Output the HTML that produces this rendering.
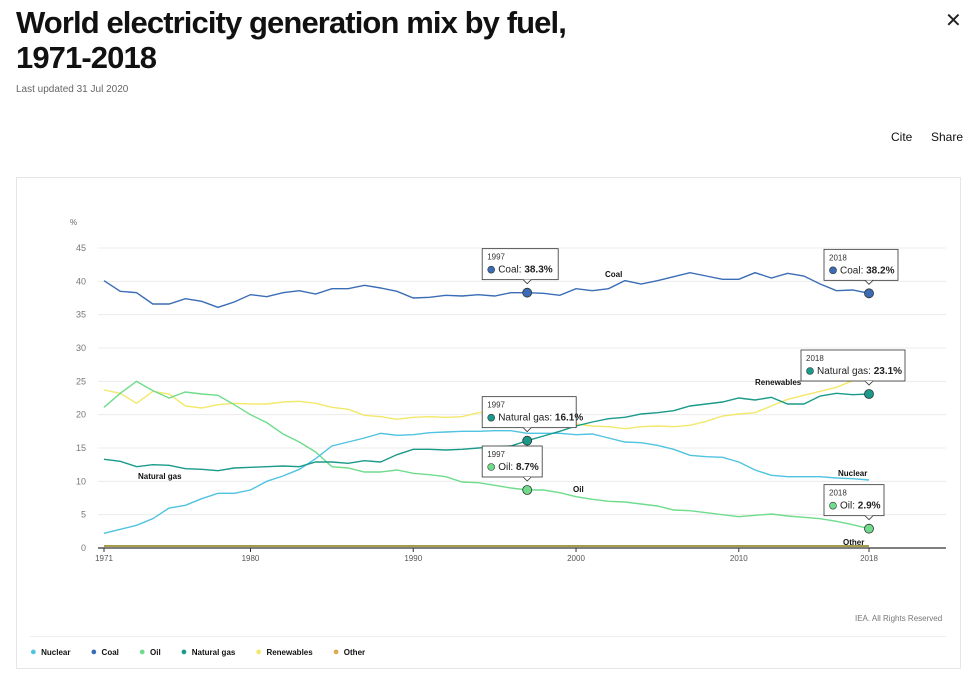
<!DOCTYPE html>
<html><head><meta charset="utf-8">
<style>
body{margin:0;width:980px;height:675px;background:#fff;font-family:"Liberation Sans",sans-serif;position:relative;overflow:hidden;color:#111}
.abs{position:absolute}
.dot{font-size:11px}
</style></head><body>
<div class="abs" style="left:16px;top:5px;font-size:31px;font-weight:bold;line-height:35px;letter-spacing:-0.9px">World electricity generation mix by fuel,<br>1971-2018</div>
<div class="abs" style="left:16px;top:84px;font-size:10px;color:#666">Last updated 31 Jul 2020</div>
<div class="abs" style="left:945px;top:8px;font-size:20px;color:#222">✕</div>
<div class="abs" style="left:891px;top:130px;font-size:12px">Cite</div>
<div class="abs" style="left:931px;top:130px;font-size:12px">Share</div>
<div class="abs" style="left:16px;top:177px;width:943px;height:490px;border:1px solid #e6e6e6"></div>
<svg class="abs" style="left:0;top:0" width="980" height="675" id="chart"></svg>
<script>
const years=[];for(let y=1971;y<=2018;y++)years.push(y);
const coal=[40.1,38.5,38.3,36.6,36.6,37.4,37,36.1,36.9,38,37.7,38.3,38.6,38.1,38.9,38.9,39.4,39,38.5,37.5,37.6,37.9,37.8,38,37.8,38.3,38.3,38.2,37.9,38.9,38.6,38.9,40.1,39.6,40.1,40.7,41.3,40.8,40.3,40.3,41.3,40.5,41.2,40.8,39.6,38.6,38.7,38.2];
const oil=[21.1,23.2,25,23.6,22.5,23.4,23.1,22.9,21.5,20,18.8,17.1,15.9,14.4,12.2,12,11.4,11.4,11.7,11.2,11,10.7,9.9,9.8,9.4,9,8.7,8.7,8.3,7.7,7.3,7,6.9,6.6,6.3,5.7,5.6,5.3,5,4.7,4.9,5.1,4.8,4.6,4.4,4,3.5,2.9];
const nuclear=[2.2,2.8,3.4,4.4,6,6.4,7.4,8.2,8.2,8.7,10,10.8,11.8,13.4,15.3,15.9,16.5,17.2,16.9,17,17.3,17.4,17.5,17.5,17.6,17.6,17.2,17.2,17.2,17,17.1,16.5,15.9,15.8,15.4,14.8,13.9,13.7,13.6,12.9,11.7,10.9,10.7,10.7,10.7,10.5,10.4,10.2];
const gas=[13.3,13,12.2,12.5,12.4,11.9,11.8,11.6,12,12.1,12.2,12.3,12.2,12.9,12.9,12.7,13.1,12.9,14,14.8,14.8,14.7,14.8,15,15.2,15.3,16.1,16.8,17.5,18.3,18.9,19.4,19.6,20.1,20.3,20.6,21.3,21.6,21.9,22.5,22.2,22.6,21.6,21.6,22.8,23.2,23,23.1];
const renew=[23.7,23.2,21.7,23.5,23.1,21.3,21,21.5,21.7,21.6,21.6,21.9,22,21.7,21.1,20.8,19.9,19.7,19.3,19.6,19.7,19.6,19.7,20.3,20.5,20.6,20.4,19.3,18.8,18.6,18.3,18.2,17.9,18.2,18.3,18.2,18.4,19,19.8,20.1,20.3,21.3,22.3,22.9,23.5,24.1,25.1,25.6];
const other=[0.3,0.3,0.3,0.3,0.3,0.3,0.3,0.3,0.3,0.3,0.3,0.3,0.3,0.3,0.3,0.3,0.3,0.3,0.3,0.3,0.3,0.3,0.3,0.3,0.3,0.3,0.3,0.3,0.3,0.3,0.3,0.3,0.3,0.3,0.3,0.3,0.3,0.3,0.3,0.3,0.3,0.3,0.3,0.3,0.3,0.3,0.3,0.3];
const yTicks=[0,5,10,15,20,25,30,35,40,45];
const xTicks=[1971,1980,1990,2000,2010,2018];
const svg=document.getElementById('chart');const NS='http://www.w3.org/2000/svg';
const X=y=>104+(y-1971)*(869-104)/47;
const Y=v=>548-v*300/45;
function el(t,a,txt){const e=document.createElementNS(NS,t);for(const k in a)e.setAttribute(k,a[k]);if(txt!==undefined)e.textContent=txt;svg.appendChild(e);return e;}
let e=el('text',{x:70,y:225,'font-size':8,fill:'#666'},'%');


yTicks.forEach(t=>{
 const g=el('line',{x1:98,x2:946,y1:Y(t),y2:Y(t),stroke:t?'#ececec':'#333','stroke-width':t?1:1.2});
 
 
 const l=el('text',{x:86,y:Y(t)+3,'font-size':9,fill:'#777','text-anchor':'end'},t);
 
 
});
xTicks.forEach(t=>{
 const l=el('text',{x:X(t),y:561,'font-size':8,fill:'#555','text-anchor':'middle'},t);
 
 
 const k=el('line',{x1:X(t),x2:X(t),y1:548,y2:552,stroke:'#333'});
 
 
});
const series=[['other',other,'#8a7a10'],['renewables',renew,'#f2e86a'],['oil',oil,'#6fdc8c'],['nuclear',nuclear,'#4fc3e0'],['natural-gas',gas,'#1a9a8a'],['coal',coal,'#3a6db5']];
series.forEach(([n,d,c])=>{
 const p=el('polyline',{points:d.map((v,i)=>X(years[i])+','+Y(v)).join(' '),fill:'none',stroke:c,'stroke-width':1.4});
 
 
});
const labels=[['Coal',605,277],['Renewables',755,385],['Nuclear',838,476],['Oil',573,492],['Natural gas',138,479],['Other',843,545]];
labels.forEach(([t,x,y])=>{const l=el('text',{x:x,y:y,'font-size':8,'font-weight':'bold',fill:'#111'},t);
 
 });
function tip(name,yr,d,color,label,val,w){
 const i=yr-1971,px=X(yr),py=Y(d[i]);
 const c=el('circle',{cx:px,cy:py,r:4.5,fill:color,stroke:'#333','stroke-width':0.8});
 
 
 const bx=Math.min(px-45,960-w-55),by=py-44;
 const r=el('rect',{x:bx,y:by,width:w,height:31,fill:'#fff',stroke:'#333','stroke-width':0.8});
 
 
 const a=el('path',{d:`M${px-4} ${by+31}L${px} ${by+35}L${px+4} ${by+31}`,fill:'#fff',stroke:'#333','stroke-width':0.8});
 
 
 const t1=el('text',{x:bx+5,y:by+11,'font-size':8,fill:'#333'},yr);
 
 
 const cc=el('circle',{cx:bx+9,cy:by+21,r:3.5,fill:color,stroke:'#333','stroke-width':0.6});
 
 
 const t2=el('text',{x:bx+16,y:by+24,'font-size':10,fill:'#222'});
 
 
 t2.innerHTML=label+': <tspan font-weight="bold">'+val.toFixed(1)+'%</tspan>';
}
tip('coal-1997',1997,coal,'#3a6db5','Coal',coal[26],76);
tip('coal-2018',2018,coal,'#3a6db5','Coal',coal[47],74);
tip('gas-1997',1997,gas,'#1a9a8a','Natural gas',gas[26],94);
tip('gas-2018',2018,gas,'#1a9a8a','Natural gas',gas[47],104);
tip('oil-1997',1997,oil,'#6fdc8c','Oil',oil[26],60);
tip('oil-2018',2018,oil,'#6fdc8c','Oil',oil[47],60);
</script>
<div class="abs" style="left:855px;top:614px;font-size:8px;color:#777">IEA. All Rights Reserved</div>
<div class="abs" style="left:30px;top:636px;width:916px;height:1px;background:#eee"></div>
<div class="abs" style="left:30px;top:646px;font-size:8px;font-weight:bold;display:flex;gap:0;white-space:nowrap;align-items:center">
<span style="margin-right:20px"><span class="dot" style="color:#4fc3e0">●</span>&nbsp; Nuclear</span>
<span style="margin-right:20px"><span class="dot" style="color:#3a6db5">●</span>&nbsp; Coal</span>
<span style="margin-right:20px"><span class="dot" style="color:#6fdc8c">●</span>&nbsp; Oil</span>
<span style="margin-right:20px"><span class="dot" style="color:#1a9a8a">●</span>&nbsp; Natural gas</span>
<span style="margin-right:20px"><span class="dot" style="color:#f2e86a">●</span>&nbsp; Renewables</span>
<span><span class="dot" style="color:#e0a850">●</span>&nbsp; Other</span>
</div>
</body></html>
